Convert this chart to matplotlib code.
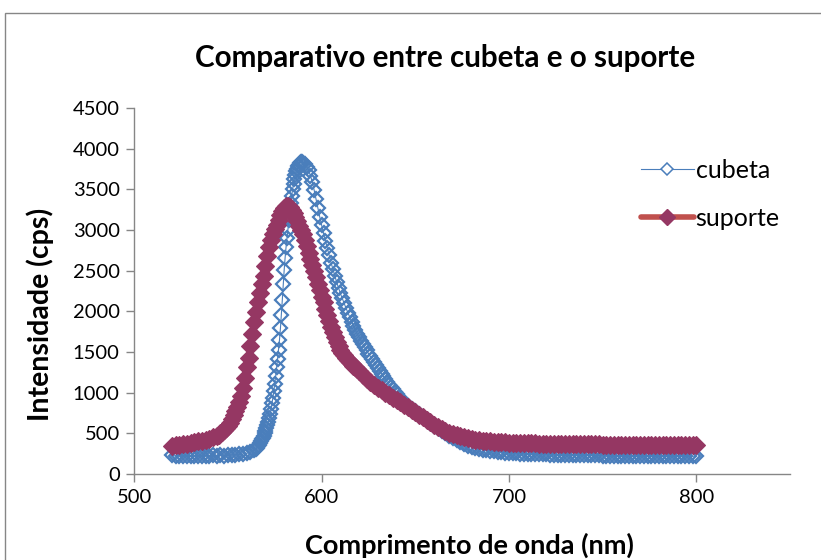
import numpy as np
import matplotlib
matplotlib.use('Agg')
import matplotlib.pyplot as plt
from matplotlib.lines import Line2D
from matplotlib.patches import Rectangle

plt.rcParams['font.family'] = ['Lato', 'DejaVu Sans']

# Emission spectra, intensity in cps. The cubeta scan is sampled more
# finely around its steep rising edge.
cubeta_nm = np.concatenate([np.arange(520, 565, 2),
                            np.arange(565, 590.5, 0.5),
                            np.arange(591, 641, 1),
                            np.arange(642, 801, 2)])
cubeta_low = [228, 222, 226, 220, 224, 221, 225, 219, 223, 226, 222, 228,
              224, 230, 227, 232, 236, 234, 240, 246, 255, 268, 290]
cubeta_peak = [310, 325, 340, 358, 378, 400, 425, 448, 470, 500,
               530, 565, 600, 640, 685, 740, 800, 870, 940, 1020,
               1110, 1210, 1310, 1420, 1530, 1650, 1790, 1960, 2140, 2330,
               2510, 2660, 2790, 2900, 3000, 3120, 3230, 3330, 3420, 3500,
               3570, 3630, 3680, 3720, 3755, 3785, 3805, 3820, 3832, 3836,
               3830]
cubeta_fall = [3815, 3780, 3735, 3670, 3590, 3490, 3380, 3270, 3160, 3060,
               2960, 2870, 2780, 2690, 2600, 2520, 2440, 2360, 2290, 2220,
               2160, 2100, 2040, 1985, 1930, 1875, 1820, 1770, 1720, 1680,
               1640, 1600, 1560, 1520, 1480, 1445, 1410, 1375, 1340, 1305,
               1270, 1235, 1200, 1165, 1130, 1100, 1070, 1040, 1010, 980]
cubeta_tail = [930, 885, 840, 800, 770, 735, 700, 665, 630, 595,
               562, 530, 500, 470, 440, 412, 388, 367, 349, 334,
               321, 309, 299, 291, 284, 278, 273, 268, 264, 260,
               256, 254, 251, 249, 247, 245, 244, 242, 241, 240,
               238, 237, 236, 236, 234, 233, 233, 231, 231, 230,
               229, 229, 228, 228, 227, 226, 227, 225, 226, 224,
               225, 223, 224, 222, 223, 222, 221, 222, 220, 221,
               220, 219, 221, 219, 220, 218, 219, 218, 219, 218]

suporte_nm = np.concatenate([np.arange(520, 545, 2),
                             np.arange(545, 621, 1),
                             np.arange(622, 801, 2)])
suporte_low = [350, 355, 360, 366, 373, 381, 390, 400, 411, 423, 436, 452, 472]
suporte_peak = [485, 500, 518, 540, 565, 595, 630, 670, 720, 770,
                825, 880, 960, 1060, 1180, 1310, 1430, 1570, 1720, 1870,
                1990, 2110, 2220, 2330, 2440, 2560, 2680, 2790, 2880, 2950,
                3010, 3060, 3120, 3180, 3230, 3270, 3295, 3300, 3285, 3250,
                3210, 3160, 3110, 3050, 3000, 2950, 2880, 2800, 2720, 2640,
                2570, 2500, 2420, 2340, 2260, 2180, 2110, 2030, 1950, 1880,
                1810, 1740, 1680, 1620, 1570, 1530, 1490, 1460, 1430, 1405,
                1380, 1355, 1330, 1310, 1290, 1270]
suporte_tail = [1220, 1170, 1130, 1095, 1060, 1030, 1000, 970, 940, 910,
                880, 850, 820, 790, 760, 730, 700, 668, 636, 605,
                578, 552, 530, 510, 492, 476, 462, 450, 440, 431,
                423, 416, 410, 405, 401, 397, 394, 391, 388, 386,
                384, 382, 380, 379, 377, 376, 375, 374, 372, 373,
                371, 370, 371, 369, 368, 369, 367, 366, 367, 365,
                364, 365, 363, 364, 362, 361, 362, 360, 361, 359,
                360, 358, 359, 357, 358, 356, 357, 355, 356, 355,
                354, 356, 354, 355, 353, 354, 352, 353, 352, 353]

cubeta_cps = cubeta_low + cubeta_peak + cubeta_fall + cubeta_tail
suporte_cps = suporte_low + suporte_peak + suporte_tail

x_ticks = [500, 600, 700, 800]
y_ticks = list(range(0, 4501, 500))

blue = '#4A7EBB'
plum = '#953763'
red_line = '#C0504D'
axis_gray = '#868686'

fig = plt.figure(figsize=(8.21, 5.6), dpi=100)
ax = fig.add_axes([0.1636, 0.1536, 0.7986, 0.6535])

ax.plot(cubeta_nm, cubeta_cps, color=blue, lw=0.8, marker='D', ms=7.2,
        mfc='none', mec=blue, mew=1.6, zorder=3)
ax.plot(suporte_nm, suporte_cps, color=plum, lw=4.5, marker='D', ms=9.0,
        mfc=plum, mec=plum, mew=0.8, zorder=4)

ax.set_xlim(500, 850)
ax.set_ylim(0, 4500)
ax.set_xticks(x_ticks)
ax.set_yticks(y_ticks)

for side in ['top', 'right']:
    ax.spines[side].set_visible(False)
for side in ['left', 'bottom']:
    ax.spines[side].set_color(axis_gray)
    ax.spines[side].set_linewidth(1.0)
ax.tick_params(direction='out', length=5.5, width=1.0, color=axis_gray,
               labelsize=14.5, labelcolor='black', pad=5)

fig.text(40 / 821, 1 - 314 / 560, 'Intensidade (cps)', fontsize=20.5,
         fontweight='bold', rotation=90, ha='center', va='center')
fig.text(469 / 821, 1 - 545 / 560, 'Comprimento de onda (nm)', fontsize=19.5,
         fontweight='bold', ha='center', va='center')
fig.text(445 / 821, 1 - 58 / 560, 'Comparativo entre cubeta e o suporte',
         fontsize=21.3, fontweight='bold', ha='center', va='center')

# legend handles: the suporte entry shows the red series line
handles = [Line2D([], [], color=blue, lw=0.8, marker='D', ms=6.6,
                  mfc='white', mec=blue, mew=1.1),
           Line2D([], [], color=red_line, lw=4.0, marker='D', ms=8.2,
                  mfc=plum, mec=plum, solid_capstyle='round')]
fig.legend(handles, ['cubeta', 'suporte'], loc='upper left',
           bbox_to_anchor=(641 / 821, 1 - 159 / 560), frameon=False,
           fontsize=18, handlelength=2.1, handletextpad=0.08,
           labelspacing=1.0, borderpad=0, borderaxespad=0)

# chart area border
fig.add_artist(Rectangle((5 / 821, -0.05), 1.2, 1.05 - 13 / 560,
                         transform=fig.transFigure, fill=False,
                         edgecolor=axis_gray, lw=1.0))

fig.savefig('out.png', dpi=100, facecolor='white')
